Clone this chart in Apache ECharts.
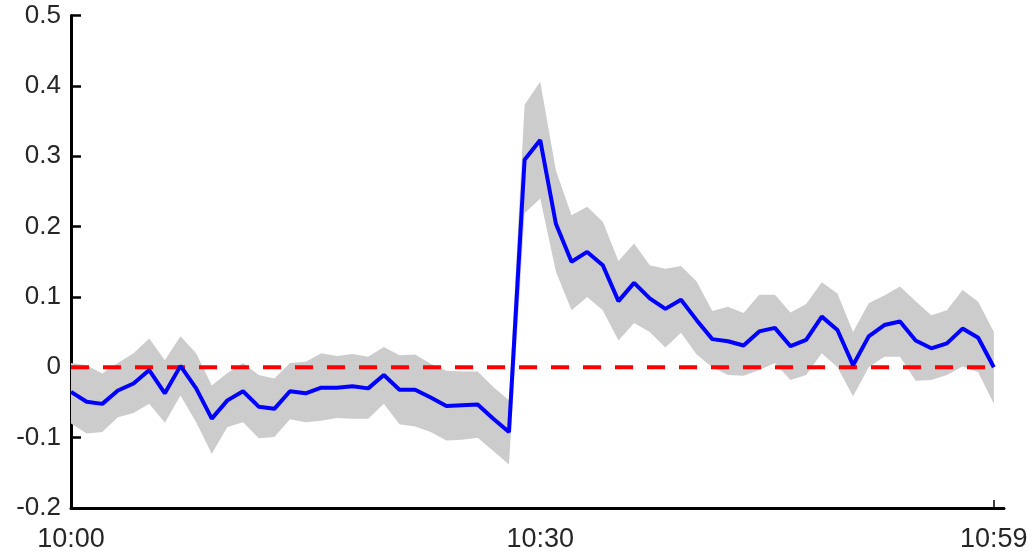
<!DOCTYPE html>
<html>
<head>
<meta charset="utf-8">
<script src="https://cdn.jsdelivr.net/npm/echarts@6/dist/echarts.min.js"></script>
<style>html,body{margin:0;padding:0;background:#fff}#c{width:1033px;height:556px}</style>
</head>
<body>
<div id="c"></div>
<script>
// minutes after 10:00
const minutes = Array.from({length: 60}, (_, i) => i);
const meanValues = [
  -0.035, -0.049, -0.052, -0.033, -0.023, -0.004, -0.037, 0.002, -0.030, -0.073,
  -0.047, -0.034, -0.056, -0.059, -0.034, -0.037, -0.029, -0.029, -0.027, -0.030,
  -0.011, -0.032, -0.032, -0.043, -0.055, -0.054, -0.053, -0.073, -0.092, 0.295,
  0.323, 0.204, 0.150, 0.164, 0.145, 0.094, 0.120, 0.098, 0.083, 0.096,
  0.067, 0.040, 0.037, 0.031, 0.051, 0.056, 0.030, 0.039, 0.072, 0.053,
  0.003, 0.044, 0.060, 0.065, 0.038, 0.027, 0.034, 0.055, 0.042, 0.000
];
const upperValues = [
  0.006, 0.003, -0.009, 0.006, 0.020, 0.041, 0.010, 0.044, 0.020, -0.026,
  -0.008, 0.006, -0.011, -0.016, 0.006, 0.008, 0.020, 0.016, 0.019, 0.015,
  0.029, 0.017, 0.018, 0.005, -0.005, -0.006, -0.006, -0.028, -0.047, 0.373,
  0.406, 0.280, 0.216, 0.228, 0.207, 0.151, 0.176, 0.145, 0.140, 0.144,
  0.122, 0.080, 0.086, 0.077, 0.103, 0.103, 0.078, 0.090, 0.121, 0.105,
  0.050, 0.091, 0.102, 0.115, 0.094, 0.074, 0.081, 0.110, 0.093, 0.050
];
const lowerValues = [
  -0.080, -0.094, -0.092, -0.071, -0.065, -0.052, -0.079, -0.040, -0.078, -0.123,
  -0.085, -0.078, -0.101, -0.099, -0.074, -0.078, -0.076, -0.072, -0.073, -0.073,
  -0.052, -0.081, -0.084, -0.092, -0.104, -0.103, -0.100, -0.119, -0.138, 0.219,
  0.240, 0.136, 0.081, 0.100, 0.081, 0.038, 0.063, 0.050, 0.028, 0.049,
  0.018, 0.000, -0.011, -0.012, -0.004, 0.006, -0.018, -0.011, 0.020, 0.000,
  -0.041, 0.000, 0.015, 0.015, -0.019, -0.018, -0.011, 0.001, -0.007, -0.052
];
const xLabelValues = [0, 30, 59];
const xTickValues = [0, 59];
const yTickLabels = ['-0.2', '-0.1', '0', '0.1', '0.2', '0.3', '0.4', '0.5'];

const fmtTime = v => '10:' + String(v).padStart(2, '0');

const chart = echarts.init(document.getElementById('c'), null, {renderer: 'canvas'});
chart.setOption({
  animation: false,
  backgroundColor: '#ffffff',
  grid: {left: 71, right: 29, top: 15.5, bottom: 48, containLabel: false},
  xAxis: {
    type: 'value',
    min: 0,
    max: 59.65,
    axisLine: {show: true, onZero: false, lineStyle: {color: '#000', width: 3}},
    axisTick: {show: true, inside: true, length: 8, lineStyle: {color: '#000', width: 1.5}, customValues: xTickValues},
    axisLabel: {
      show: true, customValues: xLabelValues, formatter: v => fmtTime(Math.round(v)),
      color: '#262626', fontSize: 27, fontFamily: '"Liberation Sans", Arial, sans-serif',
      margin: 18
    },
    splitLine: {show: false}
  },
  yAxis: {
    type: 'value',
    min: -0.2,
    max: 0.5,
    interval: 0.1,
    axisLine: {show: true, onZero: false, lineStyle: {color: '#000', width: 3}},
    axisTick: {show: true, inside: true, length: 10, lineStyle: {color: '#000', width: 2.5}},
    axisLabel: {
      color: '#262626', fontSize: 26, fontFamily: '"Liberation Sans", Arial, sans-serif', margin: 10,
      formatter: v => yTickLabels[Math.round((v + 0.2) * 10)]
    },
    splitLine: {show: false}
  },
  series: [
    {
      name: 'band', type: 'custom', silent: true, z: 1,
      data: [[0, lowerValues[0]]],
      renderItem: (params, api) => {
        const pts = [];
        minutes.forEach((m, i) => pts.push(api.coord([m, upperValues[i]])));
        for (let i = minutes.length - 1; i >= 0; i--) pts.push(api.coord([minutes[i], lowerValues[i]]));
        return {type: 'polygon', shape: {points: pts}, style: {fill: '#cccccc', stroke: null}};
      }
    },
    {
      name: 'zero', type: 'line', symbol: 'none', silent: true,
      lineStyle: {color: '#ff0000', width: 4, type: [18, 14]},
      data: [[0, 0], [59, 0]], z: 2
    },
    {
      name: 'mean', type: 'line', symbol: 'none', silent: true,
      lineStyle: {color: '#0000ff', width: 4},
      data: minutes.map((m, i) => [m, meanValues[i]]), z: 3
    }
  ]
});
</script>
</body>
</html>
